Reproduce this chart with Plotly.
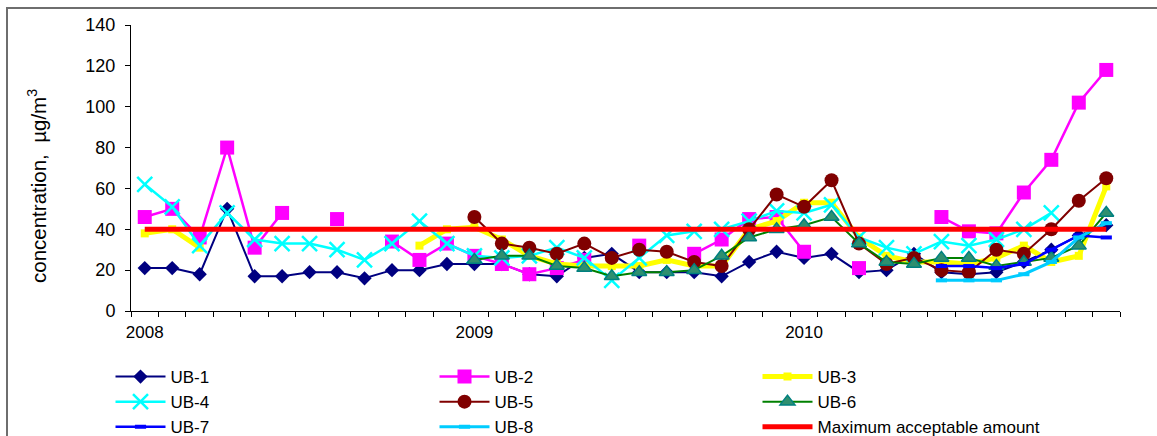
import plotly.graph_objects as go

# Monthly sampling index, January 2008 .. December 2010 (36 months)
months = list(range(36))
year_ticks = [0, 12, 24]
year_labels = ["2008", "2009", "2010"]

N = None
ub1 = [21, 21, 18, 50, 17, 17, 19, 19, 16, 20, 20, 23,
       23, 23, 18, 17, 26, 28, 19, 19, 19, 17, 24, 29,
       26, 28, 19, 20, 28, 19, 18, 19, 24, 30, 37, 42]
ub2 = [46, 50, 36, 80, 31, 48, N, 45, N, 34, 25, 33,
       27, 23, 18, 21, 25, N, 32, N, 28, 35, 45, 46,
       29, N, 21, N, N, 46, 39, 38, 58, 74, 102, 118]
ub3 = [38, 40, 31, N, N, N, N, N, N, N, 32, 40,
       41, 35, 27, 23, 22, 22, 22, 25, 22, 22, 40, 44,
       53, 53, 36, 27, 24, 24, 23, 26, 32, 24, 27, 61]
ub4 = [62, 51, 32, 48, 35, 33, 33, 30, 25, 33, 44, 33,
       27, 26, 27, 31, 26, 15, 26, 37, 39, 40, 44, 49,
       48, 52, 36, 31, 28, 34, 32, 35, 40, 48, N, N]
ub5 = [N, N, N, N, N, N, N, N, N, N, N, N,
       46, 33, 31, 28, 33, 26, 30, 29, 24, 22, 40, 57,
       51, 64, 33, 23, 26, 20, 19, 30, 28, 40, 54, 65]
ub6 = [N, N, N, N, N, N, N, N, N, N, N, N,
       25, 27, 27, 22, 21, 17, 19, 19, 20, 27, 36, 40,
       42, 46, 33, 24, 23, 26, 26, 22, 24, 26, 32, 48]
ub7 = [N, N, N, N, N, N, N, N, N, N, N, N,
       N, N, N, N, N, N, N, N, N, N, N, N,
       N, N, N, N, N, 22, 22, 21, 23, 30, 37, 36]
ub8 = [N, N, N, N, N, N, N, N, N, N, N, N,
       N, N, N, N, N, N, N, N, N, N, N, N,
       N, N, N, N, N, 15, 15, 15, 18, 24, 36, 43]
max_acceptable = [40, 40, 40, 40, 40, 40, 40, 40, 40, 40, 40, 40,
                  40, 40, 40, 40, 40, 40, 40, 40, 40, 40, 40, 40,
                  40, 40, 40, 40, 40, 40, 40, 40, 40, 40, 40, 40]

FONT = "Liberation Sans, Arial, sans-serif"

# plot-area pixel frame used to place items in paper coordinates
L, R, T, B = 131, 1120, 25, 311


def px_x(x):
    return (x - L) / (R - L)


def px_y(y):
    return (B - y) / (B - T)


fig = go.Figure()


def add_series(name, values, color, width, marker, legend):
    fig.add_trace(go.Scatter(
        x=months, y=values, name=name, mode="lines+markers",
        line=dict(color=color, width=width),
        marker=marker, legend=legend, connectgaps=False,
    ))


add_series("UB-1", ub1, "#000080", 2,
           dict(symbol="diamond", size=11, color="#000080"), "legend")
add_series("UB-2", ub2, "#FF00FF", 2.5,
           dict(symbol="square", size=14, color="#FF00FF"), "legend2")
add_series("UB-3", ub3, "#FFFF00", 5,
           dict(symbol="square", size=8, color="#FFFF00"), "legend3")
add_series("UB-4", ub4, "#00FFFF", 2.5,
           dict(symbol="x-thin", size=15, color="#00FFFF",
                line=dict(width=2.5, color="#00FFFF")), "legend")
add_series("UB-5", ub5, "#800000", 2,
           dict(symbol="circle", size=14, color="#800000"), "legend2")
add_series("UB-6", ub6, "#008000", 2,
           dict(symbol="triangle-up", size=13, color="#2F8F6F",
                line=dict(width=1.5, color="#008080")), "legend3")
add_series("UB-7", ub7, "#0000FF", 2.5,
           dict(symbol="line-ew", size=8, color="#0000FF",
                line=dict(width=4, color="#0000FF")), "legend")
add_series("UB-8", ub8, "#00CCFF", 3,
           dict(symbol="line-ew", size=8, color="#00CCFF",
                line=dict(width=4, color="#00CCFF")), "legend2")
fig.add_trace(go.Scatter(
    x=months, y=max_acceptable, name="Maximum acceptable amount",
    mode="lines", line=dict(color="#FF0000", width=5), legend="legend3",
))

legend_common = dict(
    orientation="v", xanchor="left", yanchor="top",
    font=dict(family=FONT, size=17, color="#000000"),
    bgcolor="rgba(0,0,0,0)", borderwidth=0, itemwidth=50,
    tracegroupgap=0,
)

fig.update_layout(
    width=1157, height=436,
    margin=dict(l=L, r=1157 - R, t=T, b=436 - B, pad=0, autoexpand=False),
    paper_bgcolor="#FFFFFF", plot_bgcolor="#FFFFFF",
    font=dict(family=FONT, size=17, color="#000000"),
    showlegend=True,
    legend=dict(x=px_x(110.5), y=px_y(359), **legend_common),
    legend2=dict(x=px_x(434.5), y=px_y(359), **legend_common),
    legend3=dict(x=px_x(757.5), y=px_y(359), **legend_common),
    xaxis=dict(
        range=[-0.5, 35.5], showgrid=False, zeroline=False,
        showline=True, linecolor="#000000", linewidth=1,
        tickmode="array", tickvals=year_ticks, ticktext=year_labels,
        ticks="outside", ticklen=6, tickcolor="rgba(0,0,0,0)",
        tickfont=dict(family=FONT, size=17, color="#000000"),
        minor=dict(tick0=-0.5, dtick=1, ticks="outside", ticklen=5,
                   tickcolor="#000000", tickwidth=1, showgrid=False),
    ),
    yaxis=dict(
        range=[0, 140], tickmode="linear", tick0=0, dtick=20,
        showgrid=False, zeroline=False,
        showline=True, linecolor="#000000", linewidth=1,
        ticks="outside", ticklen=5, tickcolor="#000000",
        ticklabelstandoff=6,
        tickfont=dict(family=FONT, size=18, color="#000000"),
    ),
    annotations=[dict(
        text="concentration,  µg/m<sup>3</sup>", textangle=-90,
        xref="paper", yref="paper", x=px_x(37), y=px_y(186),
        xanchor="center", yanchor="middle", showarrow=False,
        font=dict(family=FONT, size=20.5, color="#000000"),
    )],
    shapes=[dict(
        type="rect", xref="paper", yref="paper",
        x0=px_x(7), x1=px_x(1170), y0=px_y(450), y1=px_y(8),
        line=dict(color="#6E6E6E", width=2), fillcolor="rgba(0,0,0,0)",
        layer="below",
    )],
)

fig.write_html("out.html")
